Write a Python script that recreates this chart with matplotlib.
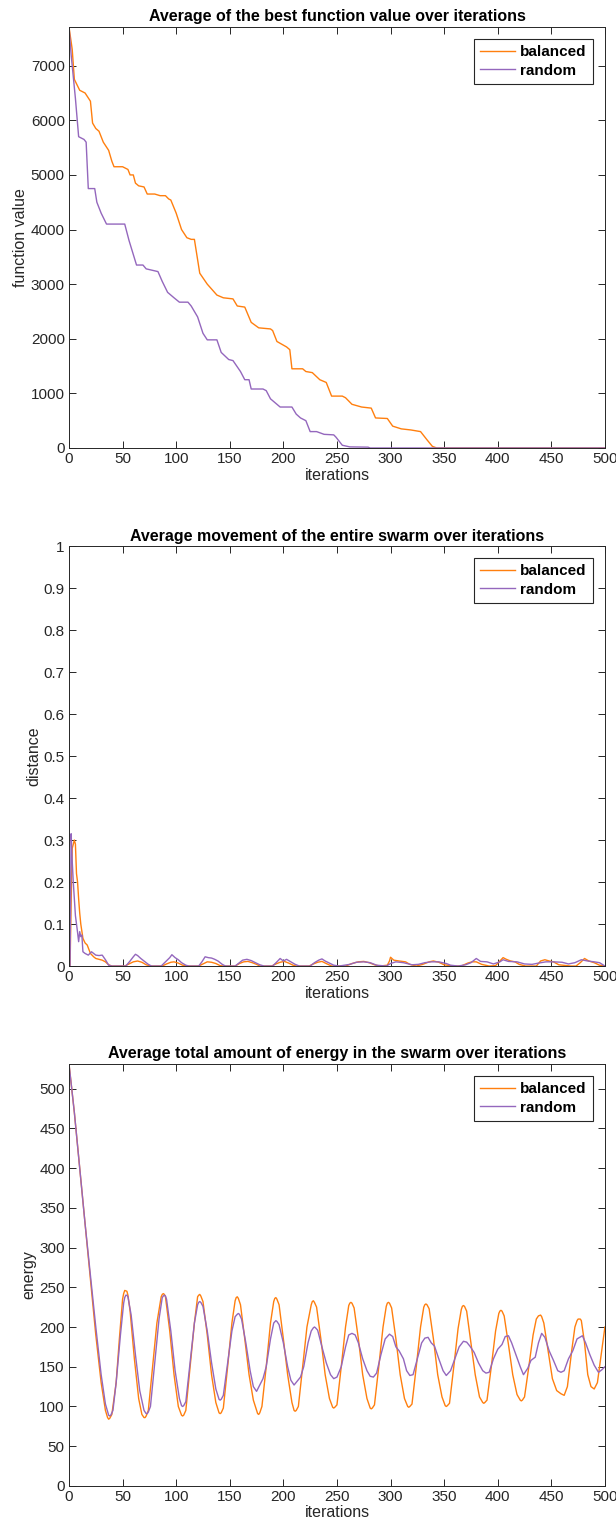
import matplotlib
matplotlib.use('Agg')
import matplotlib.pyplot as plt

plt.rcParams['font.family'] = ['Liberation Sans', 'DejaVu Sans']

# ---------------- best function value: (iteration, value) ----------------
fval_balanced = [(0, 7710), (3, 7300), (5, 6750), (10, 6550), (15, 6500), (20, 6350), (22, 5950), (25, 5850),
                 (28, 5800), (32, 5600), (37, 5450), (40, 5250), (42, 5150), (50, 5150), (55, 5100), (57, 5000),
                 (60, 5000), (62, 4850), (65, 4800), (70, 4780), (73, 4650), (80, 4650), (85, 4620), (90, 4620),
                 (93, 4560), (95, 4540), (100, 4300), (105, 4000), (110, 3850), (114, 3820), (117, 3820),
                 (122, 3200), (129, 3000), (138, 2800), (144, 2750), (153, 2730), (157, 2600), (164, 2580),
                 (170, 2300), (177, 2200), (188, 2180), (190, 2150), (194, 1950), (203, 1850), (206, 1800),
                 (208, 1450), (218, 1450), (221, 1400), (227, 1380), (234, 1250), (240, 1200), (245, 950),
                 (255, 950), (258, 920), (264, 800), (273, 750), (282, 730), (286, 550), (297, 540), (302, 400),
                 (310, 350), (319, 330), (328, 300), (334, 150), (339, 30), (343, 0), (500, 0)]

fval_random = [(0, 7710), (2, 7200), (4, 6800), (6, 6400), (9, 5700), (14, 5650), (16, 5600), (18, 4750),
               (24, 4750), (26, 4500), (30, 4300), (35, 4100), (52, 4100), (56, 3800), (63, 3350), (69, 3350),
               (72, 3280), (83, 3230), (87, 3050), (92, 2850), (98, 2750), (103, 2670), (111, 2670), (114, 2600),
               (120, 2400), (125, 2100), (129, 1980), (138, 1980), (142, 1750), (149, 1620), (153, 1600),
               (160, 1400), (164, 1250), (168, 1250), (170, 1080), (181, 1080), (184, 1050), (188, 900),
               (194, 800), (197, 750), (208, 750), (212, 620), (216, 550), (221, 500), (225, 300), (231, 300),
               (238, 250), (247, 240), (249, 200), (255, 50), (262, 20), (279, 15), (281, 0), (500, 0)]

# ---------------- swarm movement: (iteration, distance) ----------------
dist_balanced = [(0, 0), (1, 0), (2, 0.15), (3, 0.28), (4, 0.29), (5, 0.30), (6, 0.29), (7, 0.22), (8, 0.20),
                 (9, 0.16), (10, 0.126), (11, 0.10), (13, 0.066), (15, 0.055), (17, 0.05), (20, 0.03), (23, 0.022),
                 (25, 0.018), (28, 0.016), (31, 0.014), (34, 0.01), (37, 0.003), (40, 0), (52, 0), (56, 0.005),
                 (60, 0.01), (64, 0.012), (68, 0.009), (72, 0.003), (76, 0), (87, 0), (91, 0.005), (95, 0.009),
                 (98, 0.01), (102, 0.007), (106, 0.002), (110, 0), (121, 0), (125, 0.005), (129, 0.01),
                 (133, 0.009), (137, 0.006), (141, 0.001), (144, 0), (155, 0), (159, 0.006), (163, 0.01),
                 (167, 0.011), (171, 0.008), (175, 0.004), (178, 0), (189, 0), (193, 0.005), (197, 0.009),
                 (201, 0.011), (205, 0.007), (209, 0.002), (212, 0), (224, 0), (228, 0.005), (232, 0.009),
                 (236, 0.011), (240, 0.006), (245, 0), (258, 0), (264, 0.006), (270, 0.01), (275, 0.011),
                 (280, 0.008), (285, 0.003), (290, 0), (297, 0.002), (299, 0.012), (300, 0.021), (303, 0.014),
                 (308, 0.012), (314, 0.01), (318, 0.004), (324, 0), (330, 0.004), (336, 0.01), (340, 0.012),
                 (345, 0.009), (350, 0.003), (358, 0), (366, 0), (372, 0.007), (376, 0.01), (380, 0.01),
                 (385, 0.004), (392, 0), (398, 0.001), (402, 0.012), (405, 0.02), (408, 0.016), (412, 0.012),
                 (416, 0.01), (420, 0.004), (426, 0), (436, 0), (440, 0.012), (444, 0.015), (448, 0.012),
                 (452, 0.01), (457, 0.003), (468, 0), (473, 0), (477, 0.008), (481, 0.018), (485, 0.012),
                 (490, 0.008), (495, 0.002), (500, 0)]

dist_random = [(0, 0), (1, 0), (2, 0.315), (3, 0.25), (4, 0.2), (5, 0.16), (6, 0.12), (7, 0.1), (8, 0.08),
               (9, 0.058), (10, 0.082), (11, 0.07), (12, 0.074), (13, 0.034), (15, 0.03), (18, 0.026), (21, 0.034),
               (23, 0.03), (25, 0.026), (28, 0.025), (31, 0.026), (34, 0.015), (37, 0.002), (40, 0), (53, 0),
               (57, 0.012), (60, 0.022), (62, 0.028), (64, 0.025), (67, 0.018), (70, 0.012), (74, 0.004), (77, 0),
               (86, 0), (90, 0.01), (94, 0.02), (96, 0.027), (99, 0.02), (102, 0.015), (105, 0.008), (109, 0.002),
               (112, 0), (121, 0), (124, 0.01), (127, 0.022), (130, 0.02), (133, 0.019), (136, 0.016),
               (139, 0.012), (143, 0.004), (146, 0), (155, 0), (159, 0.008), (162, 0.014), (166, 0.016),
               (170, 0.013), (174, 0.008), (178, 0.003), (182, 0), (190, 0), (194, 0.01), (197, 0.018),
               (200, 0.012), (203, 0.016), (207, 0.01), (211, 0.004), (215, 0), (225, 0), (229, 0.008),
               (233, 0.014), (236, 0.017), (239, 0.012), (243, 0.007), (247, 0.002), (252, 0), (262, 0.004),
               (268, 0.009), (275, 0.01), (281, 0.008), (287, 0.002), (296, 0), (300, 0.006), (305, 0.01),
               (312, 0.008), (320, 0.003), (326, 0.004), (332, 0.008), (338, 0.01), (345, 0.01), (352, 0.006),
               (356, 0.002), (363, 0), (370, 0.003), (375, 0.008), (380, 0.018), (384, 0.011), (390, 0.01),
               (396, 0.005), (402, 0.01), (405, 0.015), (410, 0.011), (418, 0.01), (425, 0.005), (432, 0.004),
               (438, 0.007), (445, 0.01), (452, 0.01), (460, 0.009), (466, 0.005), (472, 0.008), (478, 0.015),
               (484, 0.012), (490, 0.01), (495, 0.008), (500, 0)]

# ---------------- swarm energy: (iteration, energy) ----------------
energy_balanced = [(0, 531), (5, 470), (10, 400), (15, 330), (20, 260), (25, 190), (30, 130), (34, 95), (36, 86),
                   (37, 84), (38, 85), (40, 90), (44, 130), (47, 185), (50, 235), (51, 242), (52, 246), (54, 245),
                   (55, 240), (57, 220), (61, 160), (65, 110), (68, 90), (70, 86), (71, 86), (72, 88), (74, 95),
                   (78, 150), (82, 205), (86, 238), (87, 241), (88, 242), (89, 241), (90, 238), (94, 195),
                   (98, 140), (102, 100), (105, 89), (106, 88), (107, 89), (109, 95), (113, 150), (117, 205),
                   (120, 238), (121, 240), (122, 241), (123, 239), (125, 232), (129, 190), (133, 140), (137, 105),
                   (140, 92), (141, 91), (142, 92), (144, 98), (148, 150), (152, 205), (155, 233), (156, 237),
                   (157, 238), (158, 236), (160, 228), (164, 185), (168, 140), (172, 108), (176, 91), (177, 90),
                   (178, 92), (180, 100), (184, 150), (188, 205), (191, 232), (192, 236), (193, 237), (194, 235),
                   (196, 228), (200, 185), (204, 140), (208, 105), (210, 95), (211, 94), (212, 95), (214, 100),
                   (218, 150), (222, 200), (226, 228), (227, 232), (228, 233), (229, 231), (231, 225), (235, 185),
                   (239, 140), (243, 110), (246, 99), (247, 98), (248, 99), (250, 102), (254, 150), (258, 200),
                   (261, 227), (262, 230), (263, 231), (264, 230), (266, 224), (270, 185), (274, 140), (278, 110),
                   (281, 98), (282, 97), (283, 98), (285, 102), (289, 150), (293, 200), (296, 226), (297, 230),
                   (298, 231), (299, 230), (301, 224), (305, 185), (309, 140), (313, 110), (316, 100), (317, 99),
                   (318, 100), (320, 103), (324, 150), (328, 200), (331, 225), (332, 228), (333, 229), (334, 228),
                   (336, 223), (340, 185), (344, 140), (348, 112), (351, 101), (352, 100), (353, 101), (355, 104),
                   (359, 150), (363, 198), (366, 222), (367, 226), (368, 227), (369, 226), (371, 220), (375, 180),
                   (379, 140), (383, 112), (386, 105), (387, 104), (388, 105), (390, 108), (394, 150), (398, 195),
                   (401, 217), (402, 220), (403, 221), (404, 220), (406, 214), (410, 178), (414, 140), (418, 115),
                   (421, 108), (422, 107), (423, 108), (425, 112), (429, 150), (433, 190), (436, 210), (438, 214),
                   (440, 215), (441, 213), (443, 205), (447, 170), (451, 135), (455, 120), (459, 116), (462, 114),
                   (465, 125), (469, 170), (472, 200), (474, 208), (475, 210), (477, 210), (478, 208), (481, 180),
                   (484, 140), (487, 125), (490, 122), (493, 130), (496, 160), (500, 200)]

energy_random = [(0, 531), (5, 470), (10, 400), (15, 330), (20, 265), (25, 200), (30, 140), (34, 103), (37, 89),
                 (38, 88), (39, 89), (41, 95), (44, 130), (48, 190), (51, 230), (52, 237), (53, 240), (54, 240),
                 (55, 238), (58, 215), (62, 165), (66, 120), (70, 95), (72, 91), (73, 91), (74, 93), (76, 100),
                 (80, 155), (84, 210), (87, 237), (88, 239), (89, 240), (90, 239), (91, 235), (95, 195), (99, 145),
                 (103, 110), (105, 101), (106, 100), (107, 101), (109, 106), (113, 155), (117, 205), (120, 228),
                 (121, 231), (122, 232), (123, 231), (125, 226), (129, 195), (133, 155), (137, 122), (140, 109),
                 (141, 108), (142, 109), (144, 114), (148, 155), (152, 195), (155, 213), (157, 216), (158, 217),
                 (159, 216), (161, 210), (165, 180), (169, 145), (172, 125), (175, 119), (178, 127), (181, 135),
                 (184, 150), (188, 185), (191, 205), (193, 208), (194, 207), (196, 203), (200, 180), (204, 150),
                 (207, 133), (210, 127), (213, 132), (216, 137), (219, 150), (223, 180), (226, 195), (228, 199),
                 (229, 200), (230, 199), (232, 196), (236, 175), (240, 155), (244, 140), (247, 135), (250, 137),
                 (254, 150), (258, 175), (261, 190), (264, 192), (267, 190), (270, 180), (274, 160), (278, 145),
                 (281, 138), (284, 137), (287, 142), (291, 165), (295, 185), (299, 191), (302, 188), (305, 175),
                 (308, 170), (312, 160), (315, 145), (318, 139), (321, 140), (325, 160), (329, 180), (332, 186),
                 (335, 187), (338, 180), (341, 176), (345, 160), (349, 145), (352, 139), (356, 145), (360, 160),
                 (364, 175), (368, 182), (371, 181), (374, 176), (378, 168), (382, 155), (386, 145), (389, 142),
                 (392, 143), (396, 160), (400, 172), (404, 178), (407, 188), (410, 189), (413, 180), (417, 165),
                 (421, 150), (424, 140), (428, 148), (431, 158), (435, 162), (438, 180), (441, 192), (444, 187),
                 (448, 170), (452, 158), (456, 145), (459, 143), (462, 145), (466, 160), (470, 170), (474, 185),
                 (479, 189), (482, 180), (486, 165), (490, 152), (494, 143), (497, 146), (500, 150)]

c_bal = '#FF7F0E'
c_rnd = '#9467BD'
txt = '#262626'

fig = plt.figure(figsize=(6.16, 15.30), dpi=100)

# axes rectangles in figure fractions (left, bottom, width, height)
rects = [(0.112, 0.7072, 0.870, 0.2752),
         (0.112, 0.3686, 0.870, 0.2745),
         (0.112, 0.0288, 0.870, 0.2758)]

panels = [
    (fval_balanced, fval_random, 'Average of the best function value over iterations',
     'function value', (0, 7710), [0, 1000, 2000, 3000, 4000, 5000, 6000, 7000]),
    (dist_balanced, dist_random, 'Average movement of the entire swarm over iterations',
     'distance', (0, 1), [0, 0.1, 0.2, 0.3, 0.4, 0.5, 0.6, 0.7, 0.8, 0.9, 1]),
    (energy_balanced, energy_random, 'Average total amount of energy in the swarm over iterations',
     'energy', (0, 531), [0, 50, 100, 150, 200, 250, 300, 350, 400, 450, 500]),
]

for rect, (bal, rnd, title, ylab, ylim, yticks) in zip(rects, panels):
    ax = fig.add_axes(rect)
    bx, by = zip(*bal)
    rx, ry = zip(*rnd)
    ax.plot(bx, by, color=c_bal, lw=1.0, label='balanced')
    ax.plot(rx, ry, color=c_rnd, lw=1.0, label='random')
    ax.set_xlim(0, 500)
    ax.set_ylim(*ylim)
    ax.set_xticks(range(0, 501, 50))
    ax.set_yticks(yticks)
    ax.set_yticklabels(['%g' % v for v in yticks])
    ax.tick_params(direction='in', top=True, right=True, length=5, width=0.7,
                   labelsize=11, colors=txt, pad=3)
    for s in ax.spines.values():
        s.set_color(txt)
        s.set_linewidth(0.7)
    ax.set_title(title, fontsize=11.5, fontweight='bold', pad=4)
    ax.set_xlabel('iterations', fontsize=11.5, color=txt, labelpad=1)
    ax.set_ylabel(ylab, fontsize=11.5, color=txt, labelpad=2)
    leg = ax.legend(loc='upper right', prop={'weight': 'bold', 'size': 11},
                    fancybox=False, edgecolor='#262626', framealpha=1, handlelength=2.3,
                    borderaxespad=0.8, borderpad=0.4, labelspacing=0.28, handletextpad=0.3)
    leg.get_frame().set_linewidth(0.8)

fig.savefig('out.png', dpi=100)
